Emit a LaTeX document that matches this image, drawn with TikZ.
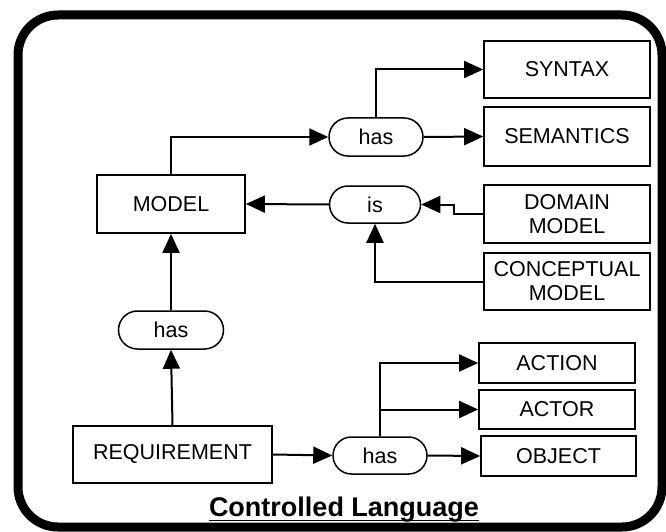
\documentclass[tikz,border=0pt]{standalone}
\usepackage{fontspec}
\setmainfont{Liberation Sans}
\usetikzlibrary{shapes.misc,arrows.meta}
\begin{document}
\begin{tikzpicture}[x=1pt,y=-1pt,
  box/.style={draw, line width=1.7pt, rectangle, inner sep=0pt, align=center, font=\fontsize{21.5}{24}\selectfont},
  pill/.style={draw, line width=1.5pt, rounded rectangle, inner sep=0pt, font=\fontsize{21.5}{24}\selectfont},
  conn/.style={line width=2pt, -{Triangle[length=19pt,width=17pt]}},
  plain/.style={line width=2pt}]
\fill[white] (0,0) rectangle (666,532);
\useasboundingbox (0,0) rectangle (666,532);
\draw[line width=9pt, rounded corners=40pt] (18,15) rectangle (662,527);

\node[box, minimum width=166pt, minimum height=57pt] (syn) at (567,69.5) {SYNTAX};
\node[box, minimum width=166pt, minimum height=59pt] (sem) at (567,136.5) {SEMANTICS};
\node[box, minimum width=166pt, minimum height=58pt] (dom) at (567,214) {DOMAIN\\MODEL};
\node[box, minimum width=166pt, minimum height=57pt] (con) at (567,281.5) {CONCEPTUAL\\MODEL};
\node[box, minimum width=156pt, minimum height=40pt] (act) at (557,363) {ACTION};
\node[box, minimum width=156pt, minimum height=39pt] (actor) at (557,409.5) {ACTOR};
\node[box, minimum width=155pt, minimum height=40pt] (obj) at (558.5,456) {OBJECT};
\node[box, minimum width=148pt, minimum height=58pt] (model) at (171,204) {MODEL};
\node[box, minimum width=199pt, minimum height=57pt] (req) at (172.5,454.5) {REQUIREMENT};

\node[pill, minimum width=94pt, minimum height=38pt] (has1) at (376,137) {has};
\node[pill, minimum width=91pt, minimum height=37pt] (is) at (375,204.5) {is};
\node[pill, minimum width=105pt, minimum height=38pt] (has2) at (171,330) {has};
\node[pill, minimum width=94pt, minimum height=37pt] (has3) at (380,455.5) {has};

\draw[conn] (model.north) |- (has1.west);
\draw[conn] (has1.north) |- (syn.west);
\draw[conn] (has1.east) -- (sem.west);
\draw[conn] (is.west) -- (model.east);
\draw[conn] (dom.west) -- ++(-29,0) |- (is.east);
\draw[conn] (con.west) -| (is.south);
\draw[conn] (req.north) -- (has2.south);
\draw[conn] (has2.north) -- (model.south);
\draw[conn] (req.east) -- (has3.west);
\draw[conn] (has3.east) -- (obj.west);
\draw[conn] (has3.north) |- (act.west);
\coordinate (br) at (has3.north |- actor.west);
\draw[conn] (br) -- (actor.west);

\node[anchor=base, font=\fontsize{27}{30}\bfseries\selectfont, inner sep=0pt] (title) at (344,516) {Controlled Language};
\draw[line width=1.6pt] ([yshift=-4.5pt]title.base west) -- ([yshift=-4.5pt]title.base east);
\end{tikzpicture}
\end{document}
